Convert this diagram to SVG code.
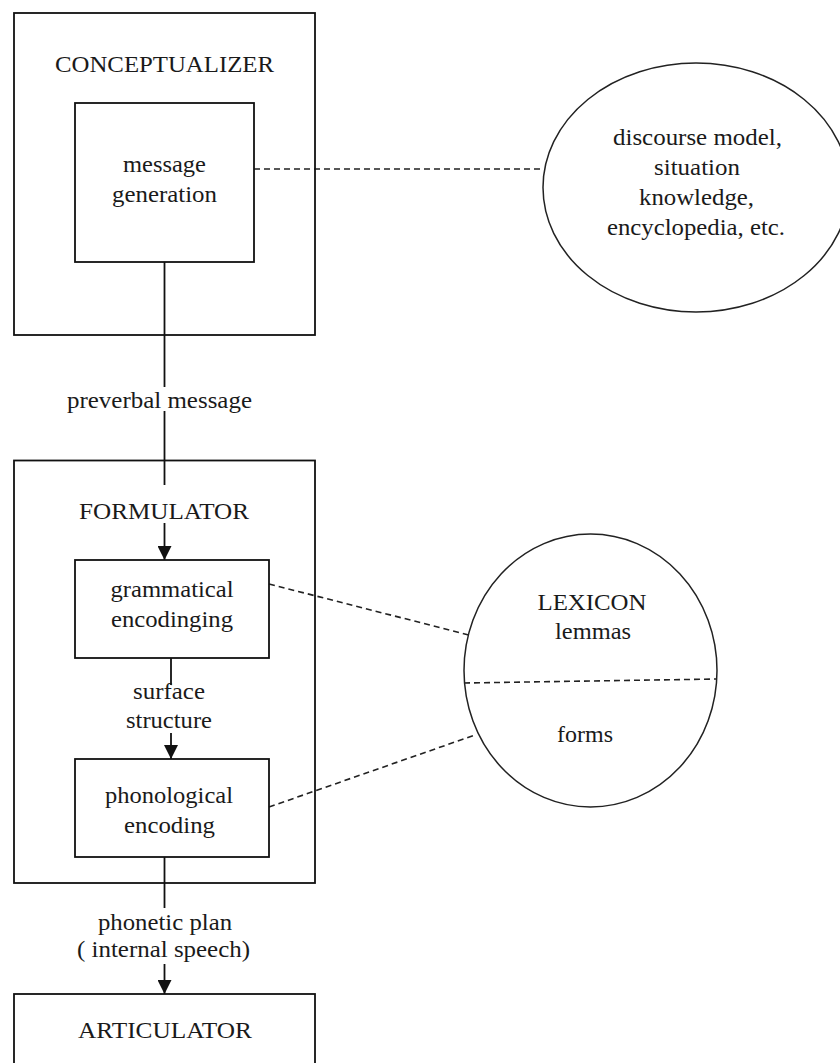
<svg xmlns="http://www.w3.org/2000/svg" width="840" height="1063" viewBox="0 0 840 1063">
<style>
.box{fill:none;stroke:#111;stroke-width:1.8}
.shape{fill:none;stroke:#222;stroke-width:1.5}
.ln{fill:none;stroke:#111;stroke-width:1.8}
.dash{fill:none;stroke:#222;stroke-width:1.6;stroke-dasharray:6 4}
text{font-family:'Liberation Serif','Times New Roman',Times,serif;font-size:23px;fill:#1a1a1a;text-anchor:middle}
</style>
<defs>
<marker id="arr" viewBox="0 0 14 14" refX="14" refY="7" markerWidth="14" markerHeight="14" markerUnits="userSpaceOnUse" orient="auto">
<path d="M0,0 L14,7 L0,14 Z" fill="#111"/>
</marker>
</defs>
<rect width="840" height="1063" fill="#fff"/>

<g id="connectors">
<line class="ln" x1="164.5" y1="262" x2="164.5" y2="387"/>
<line class="ln" x1="164.5" y1="411" x2="164.5" y2="485"/>
<line class="ln" x1="164.5" y1="523" x2="164.5" y2="560" marker-end="url(#arr)"/>
<line class="ln" x1="171" y1="658" x2="171" y2="685"/>
<line class="ln" x1="171" y1="733" x2="171" y2="759" marker-end="url(#arr)"/>
<line class="ln" x1="164.5" y1="857" x2="164.5" y2="908"/>
<line class="ln" x1="164.5" y1="964" x2="164.5" y2="994" marker-end="url(#arr)"/>
<line class="dash" x1="254" y1="169" x2="543" y2="169"/>
<line class="dash" x1="269" y1="584" x2="469" y2="635"/>
<line class="dash" x1="269" y1="807" x2="475" y2="735"/>
<line class="dash" x1="464" y1="683" x2="717" y2="679"/>
<text x="159.5" y="408" textLength="185" lengthAdjust="spacingAndGlyphs">preverbal message</text>
<text x="169" y="699" textLength="72" lengthAdjust="spacingAndGlyphs">surface</text>
<text x="169" y="728" textLength="86" lengthAdjust="spacingAndGlyphs">structure</text>
<text x="165" y="930" textLength="134" lengthAdjust="spacingAndGlyphs">phonetic plan</text>
<text x="163.5" y="957" textLength="173" lengthAdjust="spacingAndGlyphs">( internal speech)</text>
</g>

<g id="conceptualizer">
<rect class="box" x="14" y="13" width="301" height="322"/>
<text x="164.5" y="72" textLength="219" lengthAdjust="spacingAndGlyphs">CONCEPTUALIZER</text>
</g>
<g id="message-generation">
<rect class="box" x="75" y="103" width="179" height="159"/>
<text x="164.5" y="172" textLength="83" lengthAdjust="spacingAndGlyphs">message</text>
<text x="164.5" y="202" textLength="105" lengthAdjust="spacingAndGlyphs">generation</text>
</g>
<g id="knowledge">
<ellipse class="shape" cx="696" cy="187.5" rx="153" ry="124.5"/>
<text x="697.5" y="145" textLength="169" lengthAdjust="spacingAndGlyphs">discourse model,</text>
<text x="697" y="175" textLength="86" lengthAdjust="spacingAndGlyphs">situation</text>
<text x="696.5" y="205" textLength="115" lengthAdjust="spacingAndGlyphs">knowledge,</text>
<text x="696" y="235" textLength="178" lengthAdjust="spacingAndGlyphs">encyclopedia, etc.</text>
</g>
<g id="formulator">
<rect class="box" x="14" y="460.5" width="301" height="422.5"/>
<text x="164" y="519" textLength="170" lengthAdjust="spacingAndGlyphs">FORMULATOR</text>
</g>
<g id="grammatical-encoding">
<rect class="box" x="75" y="560" width="194" height="98"/>
<text x="172" y="597" textLength="123" lengthAdjust="spacingAndGlyphs">grammatical</text>
<text x="172" y="627" textLength="122" lengthAdjust="spacingAndGlyphs">encodinging</text>
</g>
<g id="phonological-encoding">
<rect class="box" x="75" y="759" width="194" height="98"/>
<text x="169" y="803" textLength="128" lengthAdjust="spacingAndGlyphs">phonological</text>
<text x="169.5" y="833" textLength="91" lengthAdjust="spacingAndGlyphs">encoding</text>
</g>
<g id="lexicon">
<ellipse class="shape" cx="590.5" cy="670.5" rx="126.5" ry="136.5"/>
<text x="592" y="610" textLength="109" lengthAdjust="spacingAndGlyphs">LEXICON</text>
<text x="593" y="639" textLength="76" lengthAdjust="spacingAndGlyphs">lemmas</text>
<text x="585" y="742" textLength="56" lengthAdjust="spacingAndGlyphs">forms</text>
</g>
<g id="articulator">
<rect class="box" x="14" y="994" width="301" height="80"/>
<text x="165" y="1038" textLength="174" lengthAdjust="spacingAndGlyphs">ARTICULATOR</text>
</g>
</svg>
